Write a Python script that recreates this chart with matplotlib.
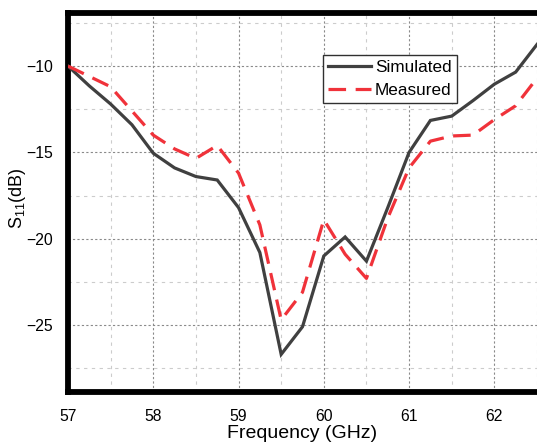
import matplotlib
matplotlib.use("Agg")
import matplotlib.pyplot as plt
from matplotlib.ticker import MultipleLocator

plt.rcParams["font.family"] = ["Liberation Sans", "DejaVu Sans"]
plt.rcParams["mathtext.fontset"] = "custom"
plt.rcParams["mathtext.rm"] = "Liberation Sans"
plt.rcParams["mathtext.it"] = "Liberation Sans:italic"

freq_sim = [57.0, 57.25, 57.5, 57.75, 58.0, 58.25, 58.5, 58.75, 59.0, 59.25,
            59.5, 59.75, 60.0, 60.25, 60.5, 60.75, 61.0, 61.25, 61.5, 61.75,
            62.0, 62.25, 62.5]
s11_sim = [-10.0, -11.15, -12.2, -13.4, -15.05, -15.9, -16.4, -16.6, -18.2, -20.8,
           -26.7, -25.1, -21.0, -19.9, -21.3, -18.2, -15.0, -13.15, -12.9, -12.0,
           -11.05, -10.35, -8.75]

freq_meas = [57.0, 57.25, 57.5, 57.75, 58.0, 58.25, 58.5, 58.75, 59.0, 59.25,
             59.5, 59.75, 60.0, 60.25, 60.5, 60.75, 61.0, 61.25, 61.5, 61.75,
             62.0, 62.25, 62.5]
s11_meas = [-10.0, -10.6, -11.2, -12.6, -14.0, -14.8, -15.35, -14.6, -16.2, -19.2,
            -24.7, -23.1, -18.9, -20.9, -22.3, -18.8, -15.9, -14.35, -14.05, -14.0,
            -13.1, -12.3, -10.7]

x_ticks = [57, 58, 59, 60, 61, 62]
y_ticks = [-25, -20, -15, -10]

fig = plt.figure(figsize=(5.37, 4.47), dpi=100)
ax = fig.add_axes([0.1266, 0.123, 0.8734, 0.849])

ax.plot(freq_sim, s11_sim, color="#404040", linewidth=2.3, label="Simulated",
        solid_joinstyle="miter", zorder=3)
ax.plot(freq_meas, s11_meas, color="#f0323a", linewidth=2.3, label="Measured",
        dashes=(5.5, 3.0), zorder=3)

ax.set_xlim(57, 62.5)
ax.set_ylim(-28.88, -6.9)
ax.set_xticks(x_ticks)
ax.set_yticks(y_ticks)
ax.xaxis.set_minor_locator(MultipleLocator(0.5))
ax.yaxis.set_minor_locator(MultipleLocator(2.5))

ax.grid(which="major", color="#8a8a8a", linestyle=(0, (2, 2)), linewidth=0.8)
ax.grid(which="minor", color="#cccccc", linestyle=(0, (3, 4)), linewidth=0.8)
ax.set_axisbelow(True)

ax.tick_params(which="both", length=0, labelsize=11.3)
ax.tick_params(axis="x", pad=12)
ax.tick_params(axis="y", pad=11)

for side in ["left", "bottom", "top"]:
    ax.spines[side].set_linewidth(4.2)
    ax.spines[side].set_color("black")
ax.spines["right"].set_visible(False)

ax.set_xlabel("Frequency (GHz)", fontsize=14, labelpad=1)
ax.set_ylabel("S$_{\\rm 11}$(dB)", fontsize=13)
ax.yaxis.set_label_coords(-0.085, 0.51)

leg = ax.legend(loc="upper left", bbox_to_anchor=(0.5437, 0.888), fontsize=12.3,
                frameon=True, fancybox=False, framealpha=1, edgecolor="#303030",
                handlelength=2.5, handletextpad=0.25, borderpad=0.3,
                labelspacing=0.45, borderaxespad=0)
leg.get_frame().set_linewidth(1.0)

fig.savefig("out.png", dpi=100)
